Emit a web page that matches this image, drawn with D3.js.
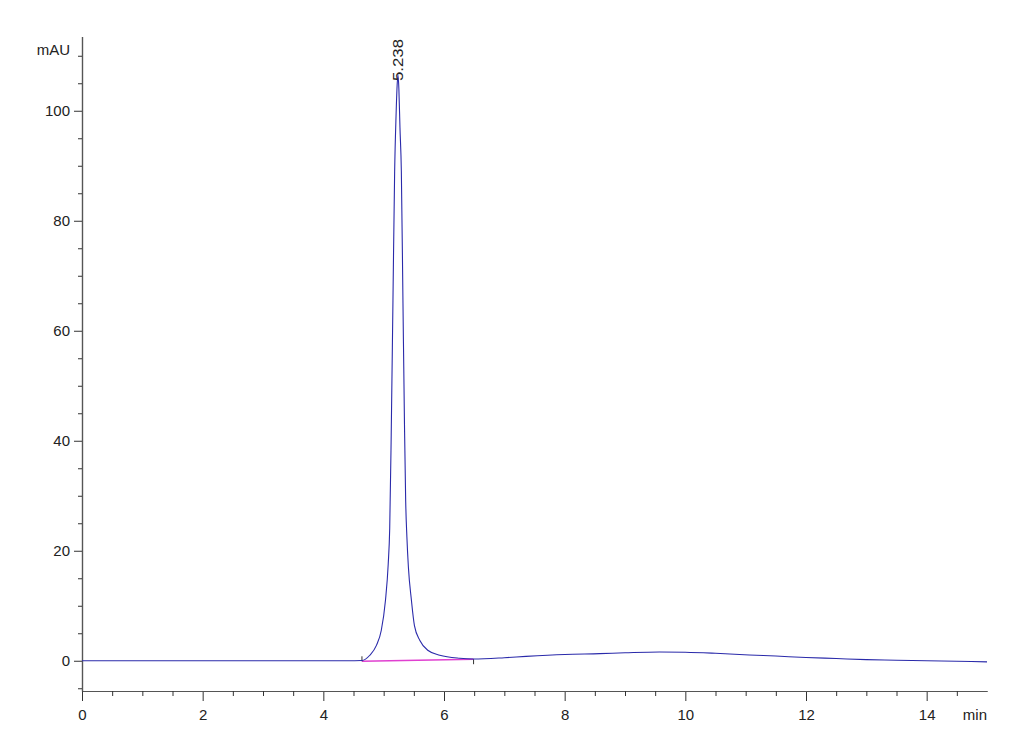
<!DOCTYPE html>
<html>
<head>
<meta charset="utf-8">
<script src="https://cdn.jsdelivr.net/npm/d3@7"></script>
<style>
  html, body { margin: 0; padding: 0; background: #fff; }
  svg { display: block; }
  text { font-family: "Liberation Sans", Arial, sans-serif; fill: #222; }
</style>
</head>
<body>
<svg id="chart" width="1030" height="755"></svg>
<script>
// ---- data ----
const timeMin = [0, 1, 2, 3, 4, 4.4, 4.64, 4.77, 4.88, 4.96, 5.03, 5.075, 5.10, 5.125, 5.154, 5.182, 5.205, 5.225, 5.238, 5.252, 5.27, 5.293, 5.32, 5.345, 5.365, 5.385, 5.41, 5.46, 5.51, 5.60, 5.73, 5.93, 6.26, 6.49, 7.0, 7.36, 8.0, 8.58, 9.0, 9.57, 10.0, 10.5, 11.06, 11.5, 12.0, 12.5, 13.0, 13.5, 14.0, 14.5, 15.0];
const signalMAU = [0, 0, 0, 0, 0, 0, 0.05, 1.0, 2.8, 5.5, 11, 17.5, 24, 41, 65.5, 89, 99, 105, 106.5, 104, 97, 89, 65, 43, 29, 22.5, 17, 11, 6.4, 3.7, 1.9, 1.0, 0.45, 0.32, 0.55, 0.8, 1.15, 1.3, 1.45, 1.6, 1.55, 1.35, 1.05, 0.85, 0.6, 0.4, 0.2, 0.1, 0.0, -0.1, -0.2];
const baselineT = [4.64, 6.49];
const baselineV = [-0.1, 0.28];
const peakTime = 5.238;
const peakLabel = "5.238";
const majorYTicks = [0, 20, 40, 60, 80, 100];
const minorYTicks = [-5, 5, 10, 15, 25, 30, 35, 45, 50, 55, 65, 70, 75, 85, 90, 95, 105, 110];
const majorXTicks = [0, 2, 4, 6, 8, 10, 12, 14];
const minorXTicks = [0.5, 1, 1.5, 2.5, 3, 3.5, 4.5, 5, 5.5, 6.5, 7, 7.5, 8.5, 9, 9.5, 10.5, 11, 11.5, 12.5, 13, 13.5, 14.5];
const yUnit = "mAU";
const xUnit = "min";

// ---- scales ----
const svg = d3.select("#chart");
const x = d3.scaleLinear().domain([0, 15]).range([82, 987]);
const y = d3.scaleLinear().domain([-5.5, 113.5]).range([691, 36.5]);
const axisColor = "#555";

// ---- axes ----
const gy = svg.append("g").attr("transform", `translate(${x(0)},0)`);
gy.call(d3.axisLeft(y).tickValues(majorYTicks).tickSize(8).tickPadding(4).tickFormat(d3.format("d")).tickSizeOuter(0));
const gyMinor = svg.append("g").attr("transform", `translate(${x(0)},0)`);
gyMinor.call(d3.axisLeft(y).tickValues(minorYTicks).tickSize(4).tickFormat("").tickSizeOuter(0));

const gx = svg.append("g").attr("transform", `translate(0,${y(-5.5)})`);
gx.call(d3.axisBottom(x).tickValues(majorXTicks).tickSize(10).tickPadding(8).tickFormat(d3.format("d")).tickSizeOuter(0));
const gxMinor = svg.append("g").attr("transform", `translate(0,${y(-5.5)})`);
gxMinor.call(d3.axisBottom(x).tickValues(minorXTicks).tickSize(5).tickFormat("").tickSizeOuter(0));

svg.selectAll(".domain").attr("stroke", axisColor).attr("stroke-width", 1.2);
svg.selectAll(".tick line").attr("stroke", "#333").attr("stroke-width", 1);
svg.selectAll(".tick text").attr("font-size", 15).attr("fill", "#222")
   .attr("font-family", "'Liberation Sans', Arial, sans-serif");

// unit labels
svg.append("text").attr("x", 70).attr("y", 55).attr("text-anchor", "end")
   .attr("font-size", 15).text(yUnit);
svg.append("text").attr("x", 987).attr("y", 720).attr("text-anchor", "end")
   .attr("font-size", 15).text(xUnit);

// ---- baseline (integration) ----
const bl = baselineT.map((t, i) => [t, baselineV[i]]);
svg.append("path")
   .datum(bl)
   .attr("fill", "none")
   .attr("stroke", "#e040d0")
   .attr("stroke-width", 1.6)
   .attr("d", d3.line().x(d => x(d[0])).y(d => y(d[1])));
// baseline end markers
svg.append("line").attr("x1", x(baselineT[0])).attr("x2", x(baselineT[0]))
   .attr("y1", y(baselineV[0]) - 5).attr("y2", y(baselineV[0])).attr("stroke", "#333");
svg.append("line").attr("x1", x(baselineT[1])).attr("x2", x(baselineT[1]))
   .attr("y1", y(baselineV[1])).attr("y2", y(baselineV[1]) + 5).attr("stroke", "#333");

// ---- signal ----
const pts = timeMin.map((t, i) => [t, signalMAU[i]]);
svg.append("path")
   .datum(pts)
   .attr("fill", "none")
   .attr("stroke", "#2a2aaa")
   .attr("stroke-width", 1.1)
   .attr("d", d3.line().x(d => x(d[0])).y(d => y(d[1])).curve(d3.curveMonotoneX));

// ---- peak label ----
const peakIdx = timeMin.indexOf(peakTime);
svg.append("text")
   .attr("transform", `translate(${x(peakTime) + 5},${y(signalMAU[peakIdx]) + 6}) rotate(-90) scale(1.2,1)`)
   .attr("text-anchor", "start")
   .attr("font-size", 14)
   .text(peakLabel);
</script>
</body>
</html>
